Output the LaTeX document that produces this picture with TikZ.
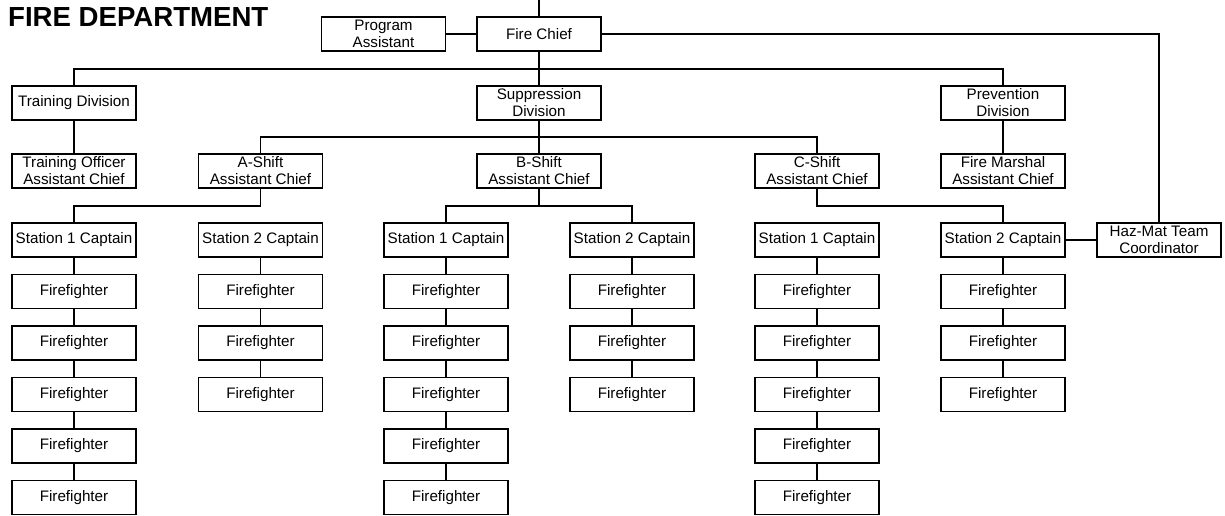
\documentclass[tikz,border=0pt]{standalone}
\usepackage{fontspec}
\setmainfont{Liberation Sans}
\usetikzlibrary{positioning}

\begin{document}
\begin{tikzpicture}[x=1pt, y=-1pt,
  box/.style={draw, line width=1.2pt, minimum width=124pt, minimum height=34pt,
    inner sep=1pt, align=center, font=\fontsize{15.2}{17}\selectfont},
  link/.style={line width=1.2pt}]
  \useasboundingbox (0,0) rectangle (1225,516);

  % title
  \node[anchor=base west, inner sep=0pt, font=\fontsize{27.6}{30}\selectfont\bfseries] (title) at (8,27) {FIRE DEPARTMENT};

  % chief level
  \node[box] (chief) at (539,34) {Fire Chief};
  \node[box] (prog) at (383.5,34) {Program\\Assistant};
  \node[box] (hazmat) at (1159,240) {Haz-Mat Team\\Coordinator};
  \coordinate (up) at (539,0);

  % divisions
  \node[box] (train) at (74,103) {Training Division};
  \node[box] (supp) at (539,103) {Suppression\\Division};
  \node[box] (prev) at (1003,103) {Prevention\\Division};
  \coordinate (divbus) at (539,69);

  % assistant chiefs
  \node[box] (trainoff) at (74,171) {Training Officer\\Assistant Chief};
  \node[box] (ashift) at (260.5,171) {A-Shift\\Assistant Chief};
  \node[box] (bshift) at (539,171) {B-Shift\\Assistant Chief};
  \node[box] (cshift) at (817,171) {C-Shift\\Assistant Chief};
  \node[box] (marshal) at (1003,171) {Fire Marshal\\Assistant Chief};
  \coordinate (shiftbus) at (539,137);
  \coordinate (stbus) at (0,206);

  % captains
  \node[box, alias=as1-0] (as1) at (74,240) {Station 1 Captain};
  \node[box, alias=as2-0] (as2) at (260.5,240) {Station 2 Captain};
  \node[box, alias=bs1-0] (bs1) at (446,240) {Station 1 Captain};
  \node[box, alias=bs2-0] (bs2) at (632,240) {Station 2 Captain};
  \node[box, alias=cs1-0] (cs1) at (817,240) {Station 1 Captain};
  \node[box, alias=cs2-0] (cs2) at (1003,240) {Station 2 Captain};

  % top links
  \draw[link] (chief.north) -- (up);
  \draw[link] (prog) -- (chief);
  \draw[link] (chief.east) -| (hazmat.north);
  \draw[link] (chief) -- (supp);
  \draw[link] (train.north) |- (divbus) -| (prev.north);
  \draw[link] (train) -- (trainoff);
  \draw[link] (prev) -- (marshal);
  \draw[link] (supp) -- (bshift);
  \draw[link] (ashift.north) |- (shiftbus) -| (cshift.north);

  % shift to stations
  \draw[link] (ashift.south) |- (ashift.south |- stbus) -| (as1.north);
  \draw[link] (bs1.north) |- (bshift.south |- stbus) -| (bs2.north);
  \draw[link] (bshift) -- (bshift.south |- stbus);
  \draw[link] (cshift.south) |- (cshift.south |- stbus) -| (cs2.north);
  \draw[link] (cs2) -- (hazmat);

  % firefighters
  \foreach \st/\x/\n in {as1/74/5, as2/260.5/3, bs1/446/5, bs2/632/3, cs1/817/5, cs2/1003/3} {
    \foreach \i [remember=\i as \prev (initially 0)] in {1,...,\n} {
      \node[box] (\st-\i) at (\x, 240+51.5*\i) {Firefighter};
      \draw[link] (\st-\prev) -- (\st-\i);
    }
  }
\end{tikzpicture}
\end{document}
